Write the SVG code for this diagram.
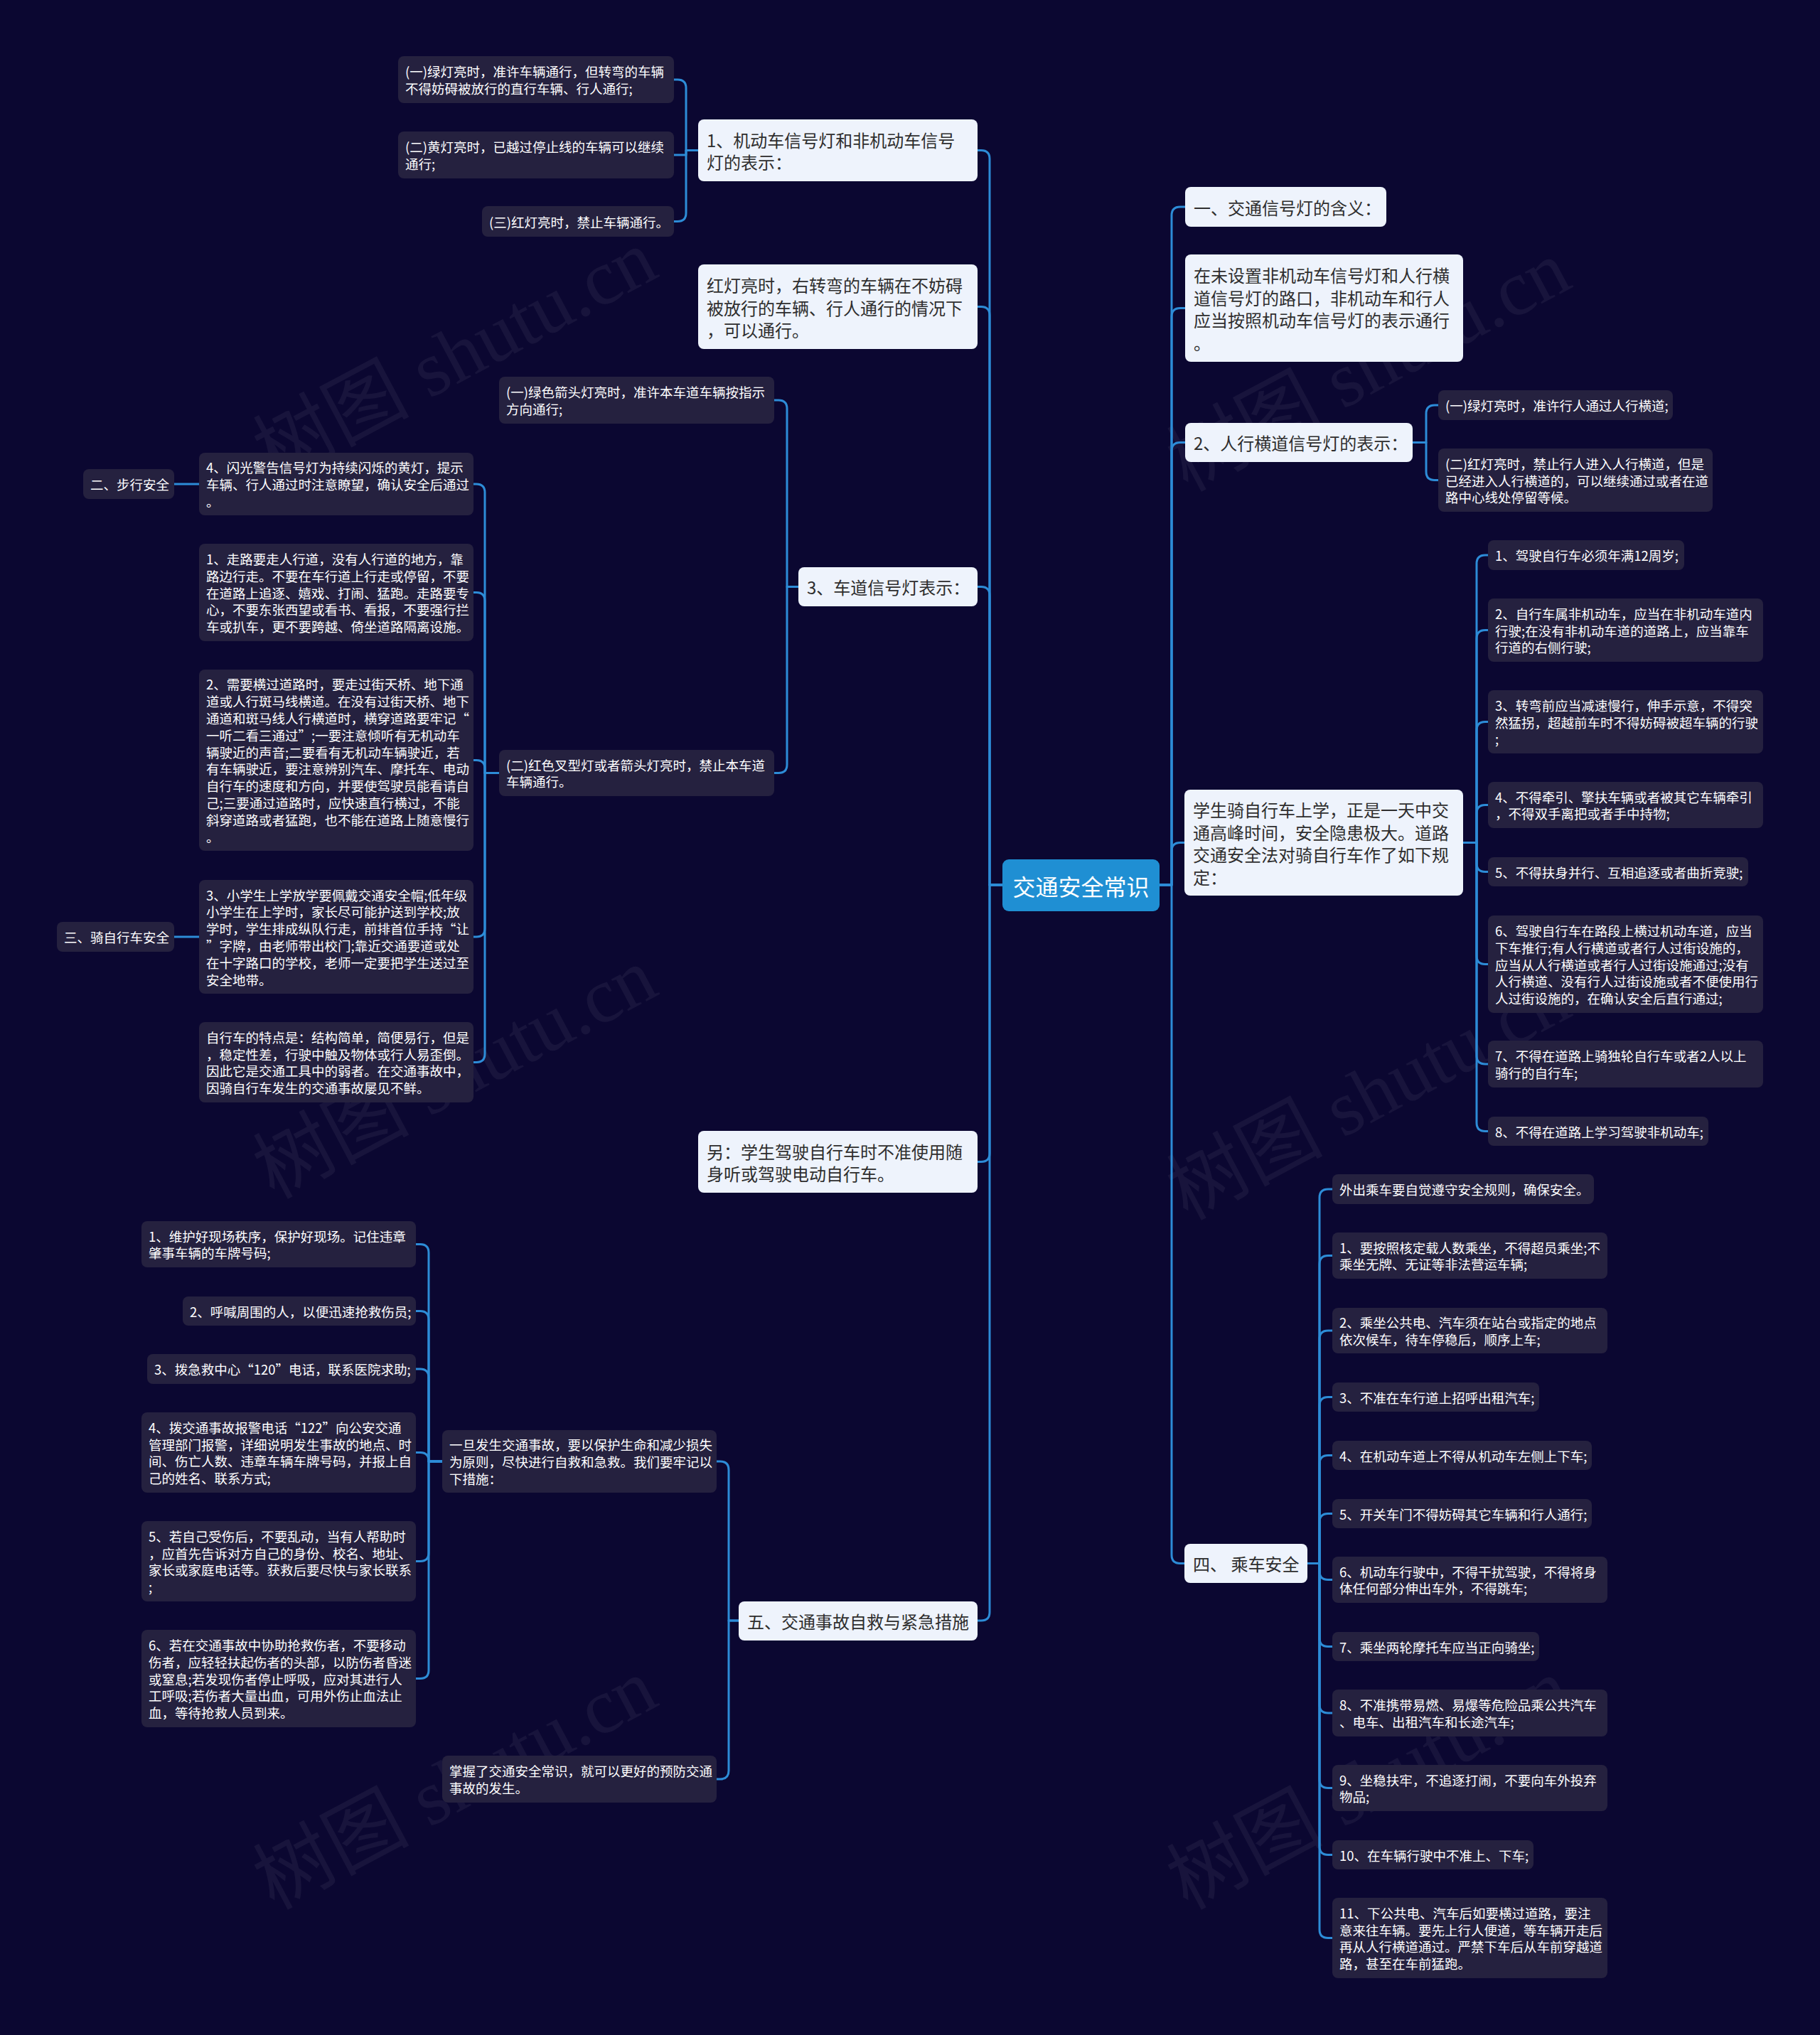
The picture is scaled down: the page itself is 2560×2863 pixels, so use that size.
<svg xmlns="http://www.w3.org/2000/svg" width="2560" height="2863" viewBox="0 0 2560 2863">
<style>
.nw{fill:#eef3fc}
.nd{fill:#25213f}
.nc{fill:#1f8fd3}
text{font-family:"Noto Sans CJK SC","Noto Sans",sans-serif;dominant-baseline:central}
.tw{font-size:24px;fill:#2e2e2e}
.td{font-size:18.5px;fill:#ffffff}
.tc{font-size:32px;fill:#ffffff;text-anchor:middle}
.ln{fill:none;stroke:#2d8cd7;stroke-width:3;stroke-linecap:round;stroke-linejoin:round}
.wm{font-family:"Liberation Serif","Noto Sans CJK SC",serif;font-size:110px;fill:#ffffff;opacity:0.05;text-anchor:middle}
</style>
<rect x="0" y="0" width="2560" height="2863" fill="#0b0731"/>
<g id="watermarks">
<text class="wm" transform="translate(640,500) rotate(-28)">树图 shutu.cn</text>
<text class="wm" transform="translate(1925,515) rotate(-28)">树图 shutu.cn</text>
<text class="wm" transform="translate(640,1510) rotate(-28)">树图 shutu.cn</text>
<text class="wm" transform="translate(1925,1540) rotate(-28)">树图 shutu.cn</text>
<text class="wm" transform="translate(640,2510) rotate(-28)">树图 shutu.cn</text>
<text class="wm" transform="translate(1925,2510) rotate(-28)">树图 shutu.cn</text>
</g>
<g id="connectors">
<path class="ln" d="M1410,1245H1392V223.5Q1392,211.5 1380,211.5H1375"/>
<path class="ln" d="M1410,1245H1392V443.5Q1392,431.5 1380,431.5H1375"/>
<path class="ln" d="M1410,1245H1392V837.5Q1392,825.5 1380,825.5H1375"/>
<path class="ln" d="M1410,1245H1392V1622.5Q1392,1634.5 1380,1634.5H1375"/>
<path class="ln" d="M1410,1245H1392V2268Q1392,2280 1380,2280H1375"/>
<path class="ln" d="M982,211.5H965V124Q965,112 953,112H948"/>
<path class="ln" d="M982,211.5H965V218H948"/>
<path class="ln" d="M982,211.5H965V299.5Q965,311.5 953,311.5H948"/>
<path class="ln" d="M1123,825.5H1107V575Q1107,563 1095,563H1089"/>
<path class="ln" d="M1123,825.5H1107V1075.5Q1107,1087.5 1095,1087.5H1089"/>
<path class="ln" d="M702,1087.5H682V693Q682,681 670,681H666"/>
<path class="ln" d="M702,1087.5H682V845.5Q682,833.5 670,833.5H666"/>
<path class="ln" d="M702,1087.5H682V1081.5Q682,1069.5 670,1069.5H666"/>
<path class="ln" d="M702,1087.5H682V1306Q682,1318 670,1318H666"/>
<path class="ln" d="M702,1087.5H682V1482.5Q682,1494.5 670,1494.5H666"/>
<path class="ln" d="M280,681H245"/>
<path class="ln" d="M280,1318H245"/>
<path class="ln" d="M1039,2280H1025V2068Q1025,2056 1013,2056H1008"/>
<path class="ln" d="M1039,2280H1025V2491Q1025,2503 1013,2503H1008"/>
<path class="ln" d="M622,2056H603V1762.5Q603,1750.5 591,1750.5H585"/>
<path class="ln" d="M622,2056H603V1856.5Q603,1844.5 591,1844.5H585"/>
<path class="ln" d="M622,2056H603V1938Q603,1926 591,1926H585"/>
<path class="ln" d="M622,2056H603V2055.5Q603,2043.5 591,2043.5H585"/>
<path class="ln" d="M622,2056H603V2184.5Q603,2196.5 591,2196.5H585"/>
<path class="ln" d="M622,2056H603V2349.5Q603,2361.5 591,2361.5H585"/>
<path class="ln" d="M1631,1245H1648V303Q1648,291 1660,291H1667"/>
<path class="ln" d="M1631,1245H1648V445.5Q1648,433.5 1660,433.5H1667"/>
<path class="ln" d="M1631,1245H1648V634.5Q1648,622.5 1660,622.5H1667"/>
<path class="ln" d="M1631,1245H1648V1197.5Q1648,1185.5 1660,1185.5H1666"/>
<path class="ln" d="M1631,1245H1648V2187.5Q1648,2199.5 1660,2199.5H1666"/>
<path class="ln" d="M1987,622.5H2006V582Q2006,570 2018,570H2023"/>
<path class="ln" d="M1987,622.5H2006V663.5Q2006,675.5 2018,675.5H2023"/>
<path class="ln" d="M2058,1185.5H2077V793Q2077,781 2089,781H2093"/>
<path class="ln" d="M2058,1185.5H2077V898.5Q2077,886.5 2089,886.5H2093"/>
<path class="ln" d="M2058,1185.5H2077V1027.5Q2077,1015.5 2089,1015.5H2093"/>
<path class="ln" d="M2058,1185.5H2077V1144.5Q2077,1132.5 2089,1132.5H2093"/>
<path class="ln" d="M2058,1185.5H2077V1214.5Q2077,1226.5 2089,1226.5H2093"/>
<path class="ln" d="M2058,1185.5H2077V1344.5Q2077,1356.5 2089,1356.5H2093"/>
<path class="ln" d="M2058,1185.5H2077V1485Q2077,1497 2089,1497H2093"/>
<path class="ln" d="M2058,1185.5H2077V1579.5Q2077,1591.5 2089,1591.5H2093"/>
<path class="ln" d="M1839,2199.5H1856V1685Q1856,1673 1868,1673H1874"/>
<path class="ln" d="M1839,2199.5H1856V1778.5Q1856,1766.5 1868,1766.5H1874"/>
<path class="ln" d="M1839,2199.5H1856V1884Q1856,1872 1868,1872H1874"/>
<path class="ln" d="M1839,2199.5H1856V1977.5Q1856,1965.5 1868,1965.5H1874"/>
<path class="ln" d="M1839,2199.5H1856V2059.5Q1856,2047.5 1868,2047.5H1874"/>
<path class="ln" d="M1839,2199.5H1856V2141.5Q1856,2129.5 1868,2129.5H1874"/>
<path class="ln" d="M1839,2199.5H1856V2210.5Q1856,2222.5 1868,2222.5H1874"/>
<path class="ln" d="M1839,2199.5H1856V2304.5Q1856,2316.5 1868,2316.5H1874"/>
<path class="ln" d="M1839,2199.5H1856V2398Q1856,2410 1868,2410H1874"/>
<path class="ln" d="M1839,2199.5H1856V2503.5Q1856,2515.5 1868,2515.5H1874"/>
<path class="ln" d="M1839,2199.5H1856V2597.5Q1856,2609.5 1868,2609.5H1874"/>
<path class="ln" d="M1839,2199.5H1856V2714.5Q1856,2726.5 1868,2726.5H1874"/>
</g>
<g id="center"><rect class="nc" x="1410" y="1209" width="221" height="73" rx="9"/><text class="tc" x="1520.5" y="1245.5">交通安全常识</text></g>
<g id="L1"><rect class="nw" x="982" y="168" width="393" height="87" rx="8"/><text class="tw" x="994" y="195.7"><tspan x="994" dy="0">1、机动车信号灯和非机动车信号</tspan><tspan x="994" dy="31.6">灯的表示：</tspan></text></g>
<g id="L1a"><rect class="nd" x="560" y="79" width="388" height="66" rx="8"/><text class="td" x="570" y="100.1"><tspan x="570" dy="0">(一)绿灯亮时，准许车辆通行，但转弯的车辆</tspan><tspan x="570" dy="23.8">不得妨碍被放行的直行车辆、行人通行;</tspan></text></g>
<g id="L1b"><rect class="nd" x="560" y="185" width="388" height="66" rx="8"/><text class="td" x="570" y="206.1"><tspan x="570" dy="0">(二)黄灯亮时，已越过停止线的车辆可以继续</tspan><tspan x="570" dy="23.8">通行;</tspan></text></g>
<g id="L1c"><rect class="nd" x="678" y="290" width="270" height="43" rx="8"/><text class="td" x="688" y="311.5">(三)红灯亮时，禁止车辆通行。</text></g>
<g id="L2"><rect class="nw" x="982" y="372" width="393" height="119" rx="8"/><text class="tw" x="994" y="399.9"><tspan x="994" dy="0">红灯亮时，右转弯的车辆在不妨碍</tspan><tspan x="994" dy="31.6">被放行的车辆、行人通行的情况下</tspan><tspan x="994" dy="31.6">，可以通行。</tspan></text></g>
<g id="L3"><rect class="nw" x="1123" y="798" width="252" height="55" rx="8"/><text class="tw" x="1135" y="825.5">3、车道信号灯表示：</text></g>
<g id="L3a"><rect class="nd" x="702" y="530" width="387" height="66" rx="8"/><text class="td" x="712" y="551.1"><tspan x="712" dy="0">(一)绿色箭头灯亮时，准许本车道车辆按指示</tspan><tspan x="712" dy="23.8">方向通行;</tspan></text></g>
<g id="L3b"><rect class="nd" x="702" y="1055" width="387" height="65" rx="8"/><text class="td" x="712" y="1075.6"><tspan x="712" dy="0">(二)红色叉型灯或者箭头灯亮时，禁止本车道</tspan><tspan x="712" dy="23.8">车辆通行。</tspan></text></g>
<g id="L3b1"><rect class="nd" x="280" y="637" width="386" height="88" rx="8"/><text class="td" x="290" y="657.2"><tspan x="290" dy="0">4、闪光警告信号灯为持续闪烁的黄灯，提示</tspan><tspan x="290" dy="23.8">车辆、行人通过时注意瞭望，确认安全后通过</tspan><tspan x="290" dy="23.8">。</tspan></text></g>
<g id="walk"><rect class="nd" x="117" y="660" width="128" height="42" rx="8"/><text class="td" x="127" y="681">二、步行安全</text></g>
<g id="L3b2"><rect class="nd" x="280" y="765" width="386" height="137" rx="8"/><text class="td" x="290" y="785.9"><tspan x="290" dy="0">1、走路要走人行道，没有人行道的地方，靠</tspan><tspan x="290" dy="23.8">路边行走。不要在车行道上行走或停留，不要</tspan><tspan x="290" dy="23.8">在道路上追逐、嬉戏、打闹、猛跑。走路要专</tspan><tspan x="290" dy="23.8">心，不要东张西望或看书、看报，不要强行拦</tspan><tspan x="290" dy="23.8">车或扒车，更不要跨越、倚坐道路隔离设施。</tspan></text></g>
<g id="L3b3"><rect class="nd" x="280" y="942" width="386" height="255" rx="8"/><text class="td" x="290" y="962.4"><tspan x="290" dy="0">2、需要横过道路时，要走过街天桥、地下通</tspan><tspan x="290" dy="23.8">道或人行斑马线横道。在没有过街天桥、地下</tspan><tspan x="290" dy="23.8">通道和斑马线人行横道时，横穿道路要牢记“</tspan><tspan x="290" dy="23.8">一听二看三通过”;一要注意倾听有无机动车</tspan><tspan x="290" dy="23.8">辆驶近的声音;二要看有无机动车辆驶近，若</tspan><tspan x="290" dy="23.8">有车辆驶近，要注意辨别汽车、摩托车、电动</tspan><tspan x="290" dy="23.8">自行车的速度和方向，并要使驾驶员能看请自</tspan><tspan x="290" dy="23.8">己;三要通过道路时，应快速直行横过，不能</tspan><tspan x="290" dy="23.8">斜穿道路或者猛跑，也不能在道路上随意慢行</tspan><tspan x="290" dy="23.8">。</tspan></text></g>
<g id="L3b4"><rect class="nd" x="280" y="1238" width="386" height="160" rx="8"/><text class="td" x="290" y="1258.5"><tspan x="290" dy="0">3、小学生上学放学要佩戴交通安全帽;低年级</tspan><tspan x="290" dy="23.8">小学生在上学时，家长尽可能护送到学校;放</tspan><tspan x="290" dy="23.8">学时，学生排成纵队行走，前排首位手持“让</tspan><tspan x="290" dy="23.8">”字牌，由老师带出校门;靠近交通要道或处</tspan><tspan x="290" dy="23.8">在十字路口的学校，老师一定要把学生送过至</tspan><tspan x="290" dy="23.8">安全地带。</tspan></text></g>
<g id="bike"><rect class="nd" x="80" y="1297" width="165" height="42" rx="8"/><text class="td" x="90" y="1318">三、骑自行车安全</text></g>
<g id="L3b5"><rect class="nd" x="280" y="1438" width="386" height="113" rx="8"/><text class="td" x="290" y="1458.8"><tspan x="290" dy="0">自行车的特点是：结构简单，简便易行，但是</tspan><tspan x="290" dy="23.8">，稳定性差，行驶中触及物体或行人易歪倒。</tspan><tspan x="290" dy="23.8">因此它是交通工具中的弱者。在交通事故中，</tspan><tspan x="290" dy="23.8">因骑自行车发生的交通事故屡见不鲜。</tspan></text></g>
<g id="L4"><rect class="nw" x="982" y="1591" width="393" height="87" rx="8"/><text class="tw" x="994" y="1618.7"><tspan x="994" dy="0">另：学生驾驶自行车时不准使用随</tspan><tspan x="994" dy="31.6">身听或驾驶电动自行车。</tspan></text></g>
<g id="L5"><rect class="nw" x="1039" y="2253" width="336" height="55" rx="8"/><text class="tw" x="1051" y="2280">五、交通事故自救与紧急措施</text></g>
<g id="L5a"><rect class="nd" x="622" y="2012" width="386" height="88" rx="8"/><text class="td" x="632" y="2032.2"><tspan x="632" dy="0">一旦发生交通事故，要以保护生命和减少损失</tspan><tspan x="632" dy="23.8">为原则，尽快进行自救和急救。我们要牢记以</tspan><tspan x="632" dy="23.8">下措施：</tspan></text></g>
<g id="L5a1"><rect class="nd" x="199" y="1718" width="386" height="65" rx="8"/><text class="td" x="209" y="1738.6"><tspan x="209" dy="0">1、维护好现场秩序，保护好现场。记住违章</tspan><tspan x="209" dy="23.8">肇事车辆的车牌号码;</tspan></text></g>
<g id="L5a2"><rect class="nd" x="257" y="1824" width="328" height="41" rx="8"/><text class="td" x="267" y="1844.5">2、呼喊周围的人，以便迅速抢救伤员;</text></g>
<g id="L5a3"><rect class="nd" x="207" y="1905" width="378" height="42" rx="8"/><text class="td" x="217" y="1926">3、拨急救中心“120”电话，联系医院求助;</text></g>
<g id="L5a4"><rect class="nd" x="199" y="1987" width="386" height="113" rx="8"/><text class="td" x="209" y="2007.8"><tspan x="209" dy="0">4、拨交通事故报警电话“122”向公安交通</tspan><tspan x="209" dy="23.8">管理部门报警，详细说明发生事故的地点、时</tspan><tspan x="209" dy="23.8">间、伤亡人数、违章车辆车牌号码，并报上自</tspan><tspan x="209" dy="23.8">己的姓名、联系方式;</tspan></text></g>
<g id="L5a5"><rect class="nd" x="199" y="2140" width="386" height="113" rx="8"/><text class="td" x="209" y="2160.8"><tspan x="209" dy="0">5、若自己受伤后，不要乱动，当有人帮助时</tspan><tspan x="209" dy="23.8">，应首先告诉对方自己的身份、校名、地址、</tspan><tspan x="209" dy="23.8">家长或家庭电话等。获救后要尽快与家长联系</tspan><tspan x="209" dy="23.8">;</tspan></text></g>
<g id="L5a6"><rect class="nd" x="199" y="2293" width="386" height="137" rx="8"/><text class="td" x="209" y="2313.9"><tspan x="209" dy="0">6、若在交通事故中协助抢救伤者，不要移动</tspan><tspan x="209" dy="23.8">伤者，应轻轻扶起伤者的头部，以防伤者昏迷</tspan><tspan x="209" dy="23.8">或窒息;若发现伤者停止呼吸，应对其进行人</tspan><tspan x="209" dy="23.8">工呼吸;若伤者大量出血，可用外伤止血法止</tspan><tspan x="209" dy="23.8">血，等待抢救人员到来。</tspan></text></g>
<g id="L5b"><rect class="nd" x="622" y="2470" width="386" height="66" rx="8"/><text class="td" x="632" y="2491.1"><tspan x="632" dy="0">掌握了交通安全常识，就可以更好的预防交通</tspan><tspan x="632" dy="23.8">事故的发生。</tspan></text></g>
<g id="R1"><rect class="nw" x="1667" y="263" width="283" height="56" rx="8"/><text class="tw" x="1679" y="291">一、交通信号灯的含义：</text></g>
<g id="R2"><rect class="nw" x="1667" y="358" width="391" height="151" rx="8"/><text class="tw" x="1679" y="386.1"><tspan x="1679" dy="0">在未设置非机动车信号灯和人行横</tspan><tspan x="1679" dy="31.6">道信号灯的路口，非机动车和行人</tspan><tspan x="1679" dy="31.6">应当按照机动车信号灯的表示通行</tspan><tspan x="1679" dy="31.6">。</tspan></text></g>
<g id="R3"><rect class="nw" x="1667" y="595" width="320" height="55" rx="8"/><text class="tw" x="1679" y="622.5">2、人行横道信号灯的表示：</text></g>
<g id="R3a"><rect class="nd" x="2023" y="549" width="330" height="42" rx="8"/><text class="td" x="2033" y="570">(一)绿灯亮时，准许行人通过人行横道;</text></g>
<g id="R3b"><rect class="nd" x="2023" y="631" width="386" height="89" rx="8"/><text class="td" x="2033" y="651.7"><tspan x="2033" dy="0">(二)红灯亮时，禁止行人进入人行横道，但是</tspan><tspan x="2033" dy="23.8">已经进入人行横道的，可以继续通过或者在道</tspan><tspan x="2033" dy="23.8">路中心线处停留等候。</tspan></text></g>
<g id="R4"><rect class="nw" x="1666" y="1111" width="392" height="149" rx="8"/><text class="tw" x="1678" y="1138.1"><tspan x="1678" dy="0">学生骑自行车上学，正是一天中交</tspan><tspan x="1678" dy="31.6">通高峰时间，安全隐患极大。道路</tspan><tspan x="1678" dy="31.6">交通安全法对骑自行车作了如下规</tspan><tspan x="1678" dy="31.6">定：</tspan></text></g>
<g id="R4_1"><rect class="nd" x="2093" y="760" width="276" height="42" rx="8"/><text class="td" x="2103" y="781">1、驾驶自行车必须年满12周岁;</text></g>
<g id="R4_2"><rect class="nd" x="2093" y="842" width="387" height="89" rx="8"/><text class="td" x="2103" y="862.7"><tspan x="2103" dy="0">2、自行车属非机动车，应当在非机动车道内</tspan><tspan x="2103" dy="23.8">行驶;在没有非机动车道的道路上，应当靠车</tspan><tspan x="2103" dy="23.8">行道的右侧行驶;</tspan></text></g>
<g id="R4_3"><rect class="nd" x="2093" y="971" width="387" height="89" rx="8"/><text class="td" x="2103" y="991.7"><tspan x="2103" dy="0">3、转弯前应当减速慢行，伸手示意，不得突</tspan><tspan x="2103" dy="23.8">然猛拐，超越前车时不得妨碍被超车辆的行驶</tspan><tspan x="2103" dy="23.8">;</tspan></text></g>
<g id="R4_4"><rect class="nd" x="2093" y="1100" width="387" height="65" rx="8"/><text class="td" x="2103" y="1120.6"><tspan x="2103" dy="0">4、不得牵引、擎扶车辆或者被其它车辆牵引</tspan><tspan x="2103" dy="23.8">，不得双手离把或者手中持物;</tspan></text></g>
<g id="R4_5"><rect class="nd" x="2093" y="1206" width="366" height="41" rx="8"/><text class="td" x="2103" y="1226.5">5、不得扶身并行、互相追逐或者曲折竞驶;</text></g>
<g id="R4_6"><rect class="nd" x="2093" y="1288" width="387" height="137" rx="8"/><text class="td" x="2103" y="1308.9"><tspan x="2103" dy="0">6、驾驶自行车在路段上横过机动车道，应当</tspan><tspan x="2103" dy="23.8">下车推行;有人行横道或者行人过街设施的，</tspan><tspan x="2103" dy="23.8">应当从人行横道或者行人过街设施通过;没有</tspan><tspan x="2103" dy="23.8">人行横道、没有行人过街设施或者不便使用行</tspan><tspan x="2103" dy="23.8">人过街设施的，在确认安全后直行通过;</tspan></text></g>
<g id="R4_7"><rect class="nd" x="2093" y="1464" width="387" height="66" rx="8"/><text class="td" x="2103" y="1485.1"><tspan x="2103" dy="0">7、不得在道路上骑独轮自行车或者2人以上</tspan><tspan x="2103" dy="23.8">骑行的自行车;</tspan></text></g>
<g id="R4_8"><rect class="nd" x="2093" y="1571" width="310" height="41" rx="8"/><text class="td" x="2103" y="1591.5">8、不得在道路上学习驾驶非机动车;</text></g>
<g id="R5"><rect class="nw" x="1666" y="2172" width="173" height="55" rx="8"/><text class="tw" x="1678" y="2199.5">四、 乘车安全</text></g>
<g id="R5_0"><rect class="nd" x="1874" y="1652" width="368" height="42" rx="8"/><text class="td" x="1884" y="1673">外出乘车要自觉遵守安全规则，确保安全。</text></g>
<g id="R5_1"><rect class="nd" x="1874" y="1734" width="387" height="65" rx="8"/><text class="td" x="1884" y="1754.6"><tspan x="1884" dy="0">1、要按照核定载人数乘坐，不得超员乘坐;不</tspan><tspan x="1884" dy="23.8">乘坐无牌、无证等非法营运车辆;</tspan></text></g>
<g id="R5_2"><rect class="nd" x="1874" y="1840" width="387" height="64" rx="8"/><text class="td" x="1884" y="1860.1"><tspan x="1884" dy="0">2、乘坐公共电、汽车须在站台或指定的地点</tspan><tspan x="1884" dy="23.8">依次候车，待车停稳后，顺序上车;</tspan></text></g>
<g id="R5_3"><rect class="nd" x="1874" y="1945" width="291" height="41" rx="8"/><text class="td" x="1884" y="1965.5">3、不准在车行道上招呼出租汽车;</text></g>
<g id="R5_4"><rect class="nd" x="1874" y="2027" width="365" height="41" rx="8"/><text class="td" x="1884" y="2047.5">4、在机动车道上不得从机动车左侧上下车;</text></g>
<g id="R5_5"><rect class="nd" x="1874" y="2109" width="365" height="41" rx="8"/><text class="td" x="1884" y="2129.5">5、开关车门不得妨碍其它车辆和行人通行;</text></g>
<g id="R5_6"><rect class="nd" x="1874" y="2190" width="387" height="65" rx="8"/><text class="td" x="1884" y="2210.6"><tspan x="1884" dy="0">6、机动车行驶中，不得干扰驾驶，不得将身</tspan><tspan x="1884" dy="23.8">体任何部分伸出车外，不得跳车;</tspan></text></g>
<g id="R5_7"><rect class="nd" x="1874" y="2296" width="291" height="41" rx="8"/><text class="td" x="1884" y="2316.5">7、乘坐两轮摩托车应当正向骑坐;</text></g>
<g id="R5_8"><rect class="nd" x="1874" y="2377" width="387" height="66" rx="8"/><text class="td" x="1884" y="2398.1"><tspan x="1884" dy="0">8、不准携带易燃、易爆等危险品乘公共汽车</tspan><tspan x="1884" dy="23.8">、电车、出租汽车和长途汽车;</tspan></text></g>
<g id="R5_9"><rect class="nd" x="1874" y="2483" width="387" height="65" rx="8"/><text class="td" x="1884" y="2503.6"><tspan x="1884" dy="0">9、坐稳扶牢，不追逐打闹，不要向车外投弃</tspan><tspan x="1884" dy="23.8">物品;</tspan></text></g>
<g id="R5_10"><rect class="nd" x="1874" y="2589" width="283" height="41" rx="8"/><text class="td" x="1884" y="2609.5">10、在车辆行驶中不准上、下车;</text></g>
<g id="R5_11"><rect class="nd" x="1874" y="2670" width="387" height="113" rx="8"/><text class="td" x="1884" y="2690.8"><tspan x="1884" dy="0">11、下公共电、汽车后如要横过道路，要注</tspan><tspan x="1884" dy="23.8">意来往车辆。要先上行人便道，等车辆开走后</tspan><tspan x="1884" dy="23.8">再从人行横道通过。严禁下车后从车前穿越道</tspan><tspan x="1884" dy="23.8">路，甚至在车前猛跑。</tspan></text></g>
</svg>
